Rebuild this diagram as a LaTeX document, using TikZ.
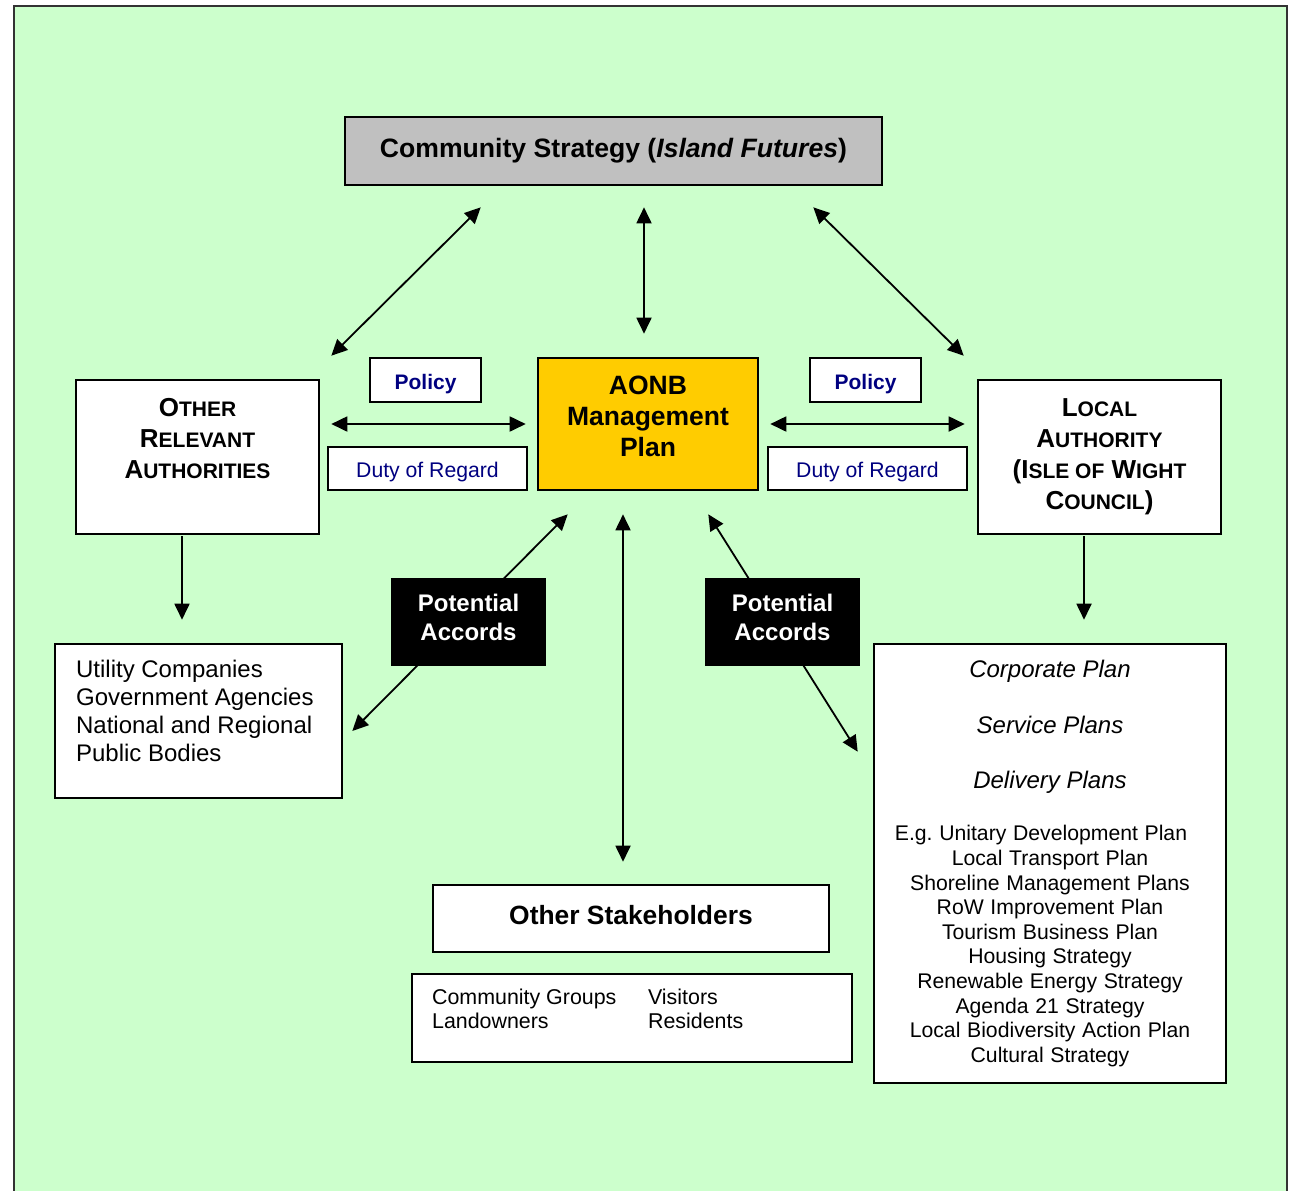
\documentclass[tikz,border=0pt]{standalone}
\usepackage{fontspec}
\setmainfont{Liberation Sans}
\usetikzlibrary{arrows.meta,calc}
\definecolor{bggreen}{HTML}{CCFFCC}
\definecolor{csgray}{HTML}{C0C0C0}
\definecolor{aonbyellow}{HTML}{FFCC00}
\definecolor{dutyblue}{HTML}{000080}
% first letter large, rest as small capitals
\newcommand\scfirst[2]{#1{\fontsize{10.5}{12}\selectfont #2}}

\begin{document}
\begin{tikzpicture}[x=0.5pt,y=-0.5pt,
  box/.style={draw, line width=1.3pt, fill=white, inner sep=0pt},
  accord/.style={fill=black, inner sep=0pt, minimum width=77.5pt, minimum height=44pt,
    label={[anchor=north, align=center, inner sep=0pt, yshift=-8.25pt, text=white,
      font=\fontsize{12}{14.5}\selectfont\bfseries]north:{#1}}},
  tag/.style={box, text=dutyblue, minimum height=22pt},
  dbl/.style={{Triangle[length=8pt,width=7.5pt]}-{Triangle[length=8pt,width=7.5pt]}, line width=0.9pt},
  one/.style={-{Triangle[length=8pt,width=7.5pt]}, line width=0.9pt}]
\useasboundingbox (0,0) rectangle (1289,1190);
% green page
\draw[fill=bggreen, draw=black!80, line width=0.8pt] (14,6) rectangle (1287,1210);

% top
\node[box, fill=csgray, minimum width=268.5pt, minimum height=34pt,
  font=\fontsize{13.3}{16}\selectfont\bfseries] (comm) at (613.5,151)
  {Community Strategy (\textit{Island Futures})};

% middle row
\node[box, fill=aonbyellow, minimum width=110pt, minimum height=66pt,
  label={[anchor=north, align=center, inner sep=0pt, yshift=-9.25pt,
    font=\fontsize{13.25}{15.5}\selectfont\bfseries]north:{AONB\\Management\\Plan}}]
  (aonb) at (648,424) {};
\node[box, minimum width=121.5pt, minimum height=77pt,
  label={[anchor=north, align=center, inner sep=0pt, yshift=-9.5pt,
    font=\fontsize{13}{15.5}\selectfont\bfseries]north:{\scfirst{O}{THER}\\\scfirst{R}{ELEVANT}\\\scfirst{A}{UTHORITIES}}}]
  (orel) at (197.5,457) {};
\node[box, minimum width=121.5pt, minimum height=77pt, align=center,
  font=\fontsize{13}{15.5}\selectfont\bfseries] (local) at (1099.5,457)
  {\scfirst{L}{OCAL}\\\scfirst{A}{UTHORITY}\\(\scfirst{I}{SLE OF} \scfirst{W}{IGHT}\\\scfirst{C}{OUNCIL})};

% policy / duty of regard tags
\node[tag, minimum width=55.5pt, text height=11.6pt, font=\fontsize{10.5}{12}\selectfont\bfseries] (polL) at (425.5,380) {Policy};
\node[tag, minimum width=55.5pt, text height=11.6pt, font=\fontsize{10.5}{12}\selectfont\bfseries] (polR) at (865.5,380) {Policy};
\node[tag, minimum width=99.5pt, minimum height=21.5pt, text height=10.7pt, font=\fontsize{10.6}{12}\selectfont] (dutyL) at (427.5,468.5) {Duty of Regard};
\node[tag, minimum width=99.5pt, minimum height=21.5pt, text height=10.7pt, font=\fontsize{10.6}{12}\selectfont] (dutyR) at (867.5,468.5) {Duty of Regard};

% lower boxes
\node[box, minimum width=143.5pt, minimum height=77pt,
  label={[anchor=north west, align=left, inner sep=0pt, xshift=11pt, yshift=-8.5pt,
    font=\fontsize{12}{14}\selectfont]north west:{Utility Companies\\Government Agencies\\National and Regional\\Public Bodies}}]
  (util) at (198.5,721) {};
\node[box, minimum width=176pt, minimum height=219.5pt, text width=170pt, align=center] (plans) at (1050,863.5)
  {{\fontsize{12}{27.75}\selectfont\itshape Corporate Plan\\Service Plans\\Delivery Plans\par}
   \vspace{13.7pt}
   {\fontsize{10.6}{12.3}\selectfont E.g.\ Unitary Development Plan\rule{9pt}{0pt}\\Local Transport Plan\\Shoreline Management Plans\\RoW Improvement Plan\\Tourism Business Plan\\Housing Strategy\\Renewable Energy Strategy\\Agenda 21 Strategy\\Local Biodiversity Action Plan\\Cultural Strategy\par}};
\node[box, minimum width=198pt, minimum height=33.5pt, text depth=4pt,
  font=\fontsize{13.2}{16}\selectfont\bfseries] (stake) at (631,918.5) {Other Stakeholders};
\node[box, minimum width=220pt, minimum height=44pt,
  label={[anchor=north west, align=left, inner sep=0pt, xshift=10.5pt, yshift=-8pt,
    font=\fontsize{10.7}{12}\selectfont]north west:{\makebox[108pt][l]{Community Groups}Visitors\\\makebox[108pt][l]{Landowners}Residents}}]
  (groups) at (632,1018) {};

% arrows
\draw[dbl] ($(comm.south west)+(137,21)$) -- ($(orel.north east)+(11,-23)$);
\draw[dbl] ($(comm.south)+(30.5,21)$) -- ($(aonb.north)+(-4,-23)$);
\draw[dbl] ($(comm.south east)+(-70,21)$) -- ($(local.north west)+(-13,-23)$);
\draw[dbl] ($(orel.east)+(11,-33)$) -- ($(aonb.west)+(-11,0)$);
\draw[dbl] ($(aonb.east)+(11,0)$) -- ($(local.west)+(-12,-33)$);
\draw[one] ($(orel.south)+(-15.5,1)$) -- ($(util.north)+(-16.5,-23)$);
\draw[one] ($(local.south)+(-15.5,1)$) -- ($(plans.north)+(34,-23)$);
\draw[dbl] ($(aonb.south)+(-25,23)$) -- ($(stake.north)+(-8,-22)$);
\draw[dbl] ($(aonb.south west)+(31,23)$) -- ($(util.east)+(9,10)$);
\draw[dbl] ($(aonb.south east)+(-51,23)$) -- ($(plans.north west)+(-15,109)$);

% accords on top of the arrows
\node[accord={Potential\\Accords}] (accL) at (468.5,622) {};
\node[accord={Potential\\Accords}] (accR) at (782.5,622) {};
\end{tikzpicture}
\end{document}
